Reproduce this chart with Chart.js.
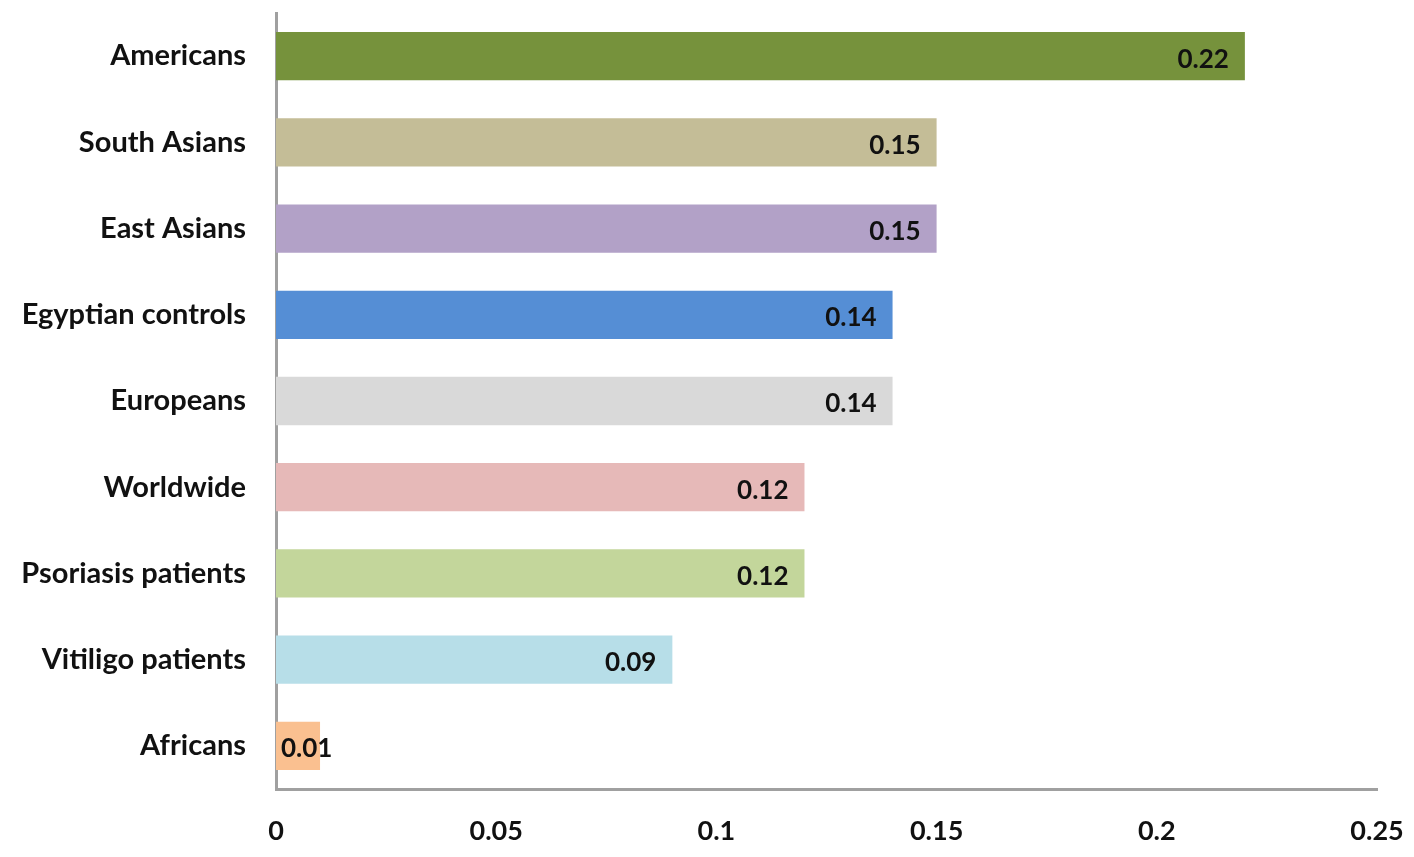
<!DOCTYPE html>
<html>
<head>
<meta charset="utf-8">
<script src="https://cdn.jsdelivr.net/npm/chart.js@4"></script>
<style>
html,body{margin:0;padding:0;background:#fff;}
#wrap{width:1414px;height:857px;}
</style>
</head>
<body>
<div id="wrap"><canvas id="c" width="1414" height="857"></canvas></div>
<script>
const categories = ["Americans","South Asians","East Asians","Egyptian controls","Europeans","Worldwide","Psoriasis patients","Vitiligo patients","Africans"];
const values = [0.22,0.15,0.15,0.14,0.14,0.12,0.12,0.09,0.01];
const barColors = ["#76923C","#C4BD97","#B2A1C7","#558ED5","#D9D9D9","#E6B9B8","#C3D69B","#B7DEE8","#FAC090"];
const xTicks = [0,0.05,0.1,0.15,0.2,0.25];

const FONT = "Lato, 'Open Sans', sans-serif";

const valueLabels = {
  id: 'valueLabels',
  afterDatasetsDraw(chart) {
    const ctx = chart.ctx;
    const meta = chart.getDatasetMeta(0);
    ctx.save();
    ctx.font = "bold 26px " + FONT;
    ctx.fillStyle = "#111";
    ctx.textAlign = "right";
    ctx.textBaseline = "middle";
    meta.data.forEach((bar, i) => {
      const txt = String(values[i]);
      const w = ctx.measureText(txt).width;
      let x = bar.x - 16;
      const minX = bar.base + 5 + w;
      if (x < minX) x = minX;
      ctx.fillText(txt, x, bar.y + 3);
    });
    ctx.restore();
  }
};

new Chart(document.getElementById('c'), {
  type: 'bar',
  data: {
    labels: categories,
    datasets: [{
      data: values,
      backgroundColor: barColors,
      borderWidth: 0,
      categoryPercentage: 1,
      barPercentage: 0.56
    }]
  },
  options: {
    indexAxis: 'y',
    responsive: false,
    animation: false,
    devicePixelRatio: 1,
    layout: { padding: { top: 13, right: 37, left: 0, bottom: 0 } },
    plugins: { legend: { display: false }, tooltip: { enabled: false } },
    scales: {
      x: {
        min: 0, max: 0.25,
        afterBuildTicks(axis) { axis.ticks = xTicks.map(v => ({ value: v })); },
        afterFit(axis) { axis.height = 857 - 789; axis.paddingLeft = 0; axis.paddingRight = 0; },
        grid: { display: false, drawTicks: false },
        border: { display: true, color: '#A0A0A0', width: 3 },
        ticks: {
          padding: 26,
          color: '#111',
          font: { family: FONT, size: 27, weight: 'bold' },
          callback: (v) => String(v),
          maxRotation: 0
        }
      },
      y: {
        afterFit(axis) { axis.width = 276; axis.paddingTop = 0; axis.paddingBottom = 0; },
        grid: { display: false, drawTicks: false },
        border: { display: true, color: '#A0A0A0', width: 3 },
        ticks: {
          padding: 30,
          color: '#111',
          font: { family: FONT, size: 29, weight: 'bold' }
        }
      }
    }
  },
  plugins: [valueLabels]
});
</script>
</body>
</html>
